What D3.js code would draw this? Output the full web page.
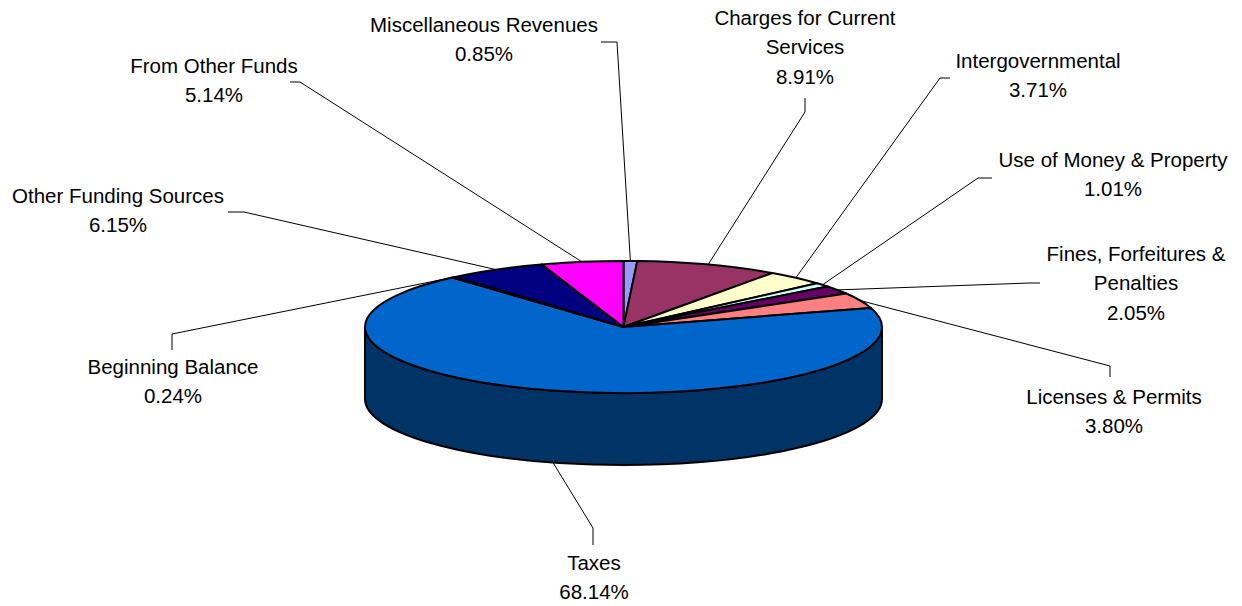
<!DOCTYPE html>
<html>
<head>
<meta charset="utf-8">
<script src="https://cdn.jsdelivr.net/npm/d3@7"></script>
<style>
  html, body { margin: 0; padding: 0; background: #fff; }
  svg { display: block; }
  text { font-family: "Liberation Sans", Arial, sans-serif; font-size: 20.5px; fill: #000; }
</style>
</head>
<body>
<svg id="chart" width="1242" height="606"></svg>
<script>
// Revenue sources, in drawing order (clockwise from 12 o'clock)
const categories = [
  "Miscellaneous Revenues",
  "Charges for Current Services",
  "Intergovernmental",
  "Use of Money & Property",
  "Fines, Forfeitures & Penalties",
  "Licenses & Permits",
  "Taxes",
  "Beginning Balance",
  "Other Funding Sources",
  "From Other Funds"
];
const shares = [0.85, 8.91, 3.71, 1.01, 2.05, 3.80, 68.14, 0.24, 6.15, 5.14];
const percentLabels = ["0.85%", "8.91%", "3.71%", "1.01%", "2.05%", "3.80%", "68.14%", "0.24%", "6.15%", "5.14%"];
const labelLines = [
  ["Miscellaneous Revenues"],
  ["Charges for Current", "Services"],
  ["Intergovernmental"],
  ["Use of Money & Property"],
  ["Fines, Forfeitures &", "Penalties"],
  ["Licenses & Permits"],
  ["Taxes"],
  ["Beginning Balance"],
  ["Other Funding Sources"],
  ["From Other Funds"]
];
const topColors = ["#9999FF", "#993366", "#FFFFCC", "#CCFFFF", "#660066", "#FF8080", "#0066CC", "#CCCCFF", "#000080", "#FF00FF"];
const sideColors = ["#4C4C80", "#4C1933", "#808066", "#668080", "#330033", "#804040", "#003366", "#666680", "#000040", "#800080"];

// Label placement: text centre x, first baseline y, and the leader's start + elbow points
const labelLayout = [
  { x: 484, y: 32, lead: [[601, 42], [617, 42]] },
  { x: 805, y: 25, lead: [[805, 98], [805, 112]] },
  { x: 1038, y: 68, lead: [[950, 78], [940, 78]] },
  { x: 1113, y: 167, lead: [[992, 178], [978, 178]] },
  { x: 1136, y: 261, lead: [[1040, 283], [1030, 283]] },
  { x: 1114, y: 404, lead: [[1110, 377], [1110, 366]] },
  { x: 594, y: 570, lead: [[593, 545], [593, 528]] },
  { x: 173, y: 374, lead: [[172, 350], [172, 334]] },
  { x: 118, y: 203, lead: [[228, 212], [244, 212]] },
  { x: 214, y: 73, lead: [[290, 82], [300, 82]] }
];

const svg = d3.select("#chart");
const cx = 623.5, cy = 327, rx = 258.5, ry = 66, depth = 72;
const lineH = 29.3;

const data = categories.map((c, i) => ({ name: c, value: shares[i], i }));
const pie = d3.pie().sort(null).value(d => d.value).startAngle(0).endAngle(2 * Math.PI);
const arcs = pie(data);

// point on the tilted rim for angle a (0 = top, clockwise)
const pt = (a, dy = 0) => [cx + rx * Math.sin(a), cy - ry * Math.cos(a) + dy];

function topPath(d) {
  const p0 = pt(d.startAngle), p1 = pt(d.endAngle);
  const large = d.endAngle - d.startAngle > Math.PI ? 1 : 0;
  return `M${cx},${cy}L${p0[0]},${p0[1]}A${rx},${ry} 0 ${large} 1 ${p1[0]},${p1[1]}Z`;
}

// front wall: only the part between 90° and 270° faces the viewer
function sidePath(d) {
  const a0 = Math.max(d.startAngle, Math.PI / 2);
  const a1 = Math.min(d.endAngle, 3 * Math.PI / 2);
  if (a1 <= a0) return null;
  const p0 = pt(a0), p1 = pt(a1), q1 = pt(a1, depth), q0 = pt(a0, depth);
  const large = a1 - a0 > Math.PI ? 1 : 0;
  return `M${p0[0]},${p0[1]}A${rx},${ry} 0 ${large} 1 ${p1[0]},${p1[1]}` +
         `L${q1[0]},${q1[1]}A${rx},${ry} 0 ${large} 0 ${q0[0]},${q0[1]}Z`;
}

const g = svg.append("g");

g.selectAll("path.side")
  .data(arcs.filter(d => sidePath(d)))
  .join("path")
  .attr("class", "side")
  .attr("d", sidePath)
  .attr("fill", d => sideColors[d.index])
  .attr("stroke", "#000")
  .attr("stroke-width", 2)
  .attr("stroke-linejoin", "round");

g.selectAll("path.top")
  .data(arcs)
  .join("path")
  .attr("class", "top")
  .attr("d", topPath)
  .attr("fill", d => topColors[d.index])
  .attr("stroke", "#000")
  .attr("stroke-width", 2)
  .attr("stroke-linejoin", "round");

// leader lines: label stub -> elbow -> rim point at the slice's mid angle
const leaders = svg.append("g");
arcs.forEach(d => {
  const mid = (d.startAngle + d.endAngle) / 2;
  const c = Math.cos(mid);
  // slices whose midpoint sits on the front wall connect to its lower edge
  const end = c < -0.8 ? pt(mid, depth) : pt(mid);
  const L = labelLayout[d.index];
  const pts = [...L.lead, end];
  leaders.append("path")
    .attr("d", d3.line()(pts))
    .attr("fill", "none")
    .attr("stroke", "#000")
    .attr("stroke-width", 1);
});

// labels
const labels = svg.append("g");
arcs.forEach(d => {
  const L = labelLayout[d.index];
  const lines = [...labelLines[d.index], percentLabels[d.index]];
  const t = labels.append("text").attr("text-anchor", "middle");
  lines.forEach((s, k) => {
    t.append("tspan").attr("x", L.x).attr("y", L.y + k * lineH).text(s);
  });
});
</script>
</body>
</html>
